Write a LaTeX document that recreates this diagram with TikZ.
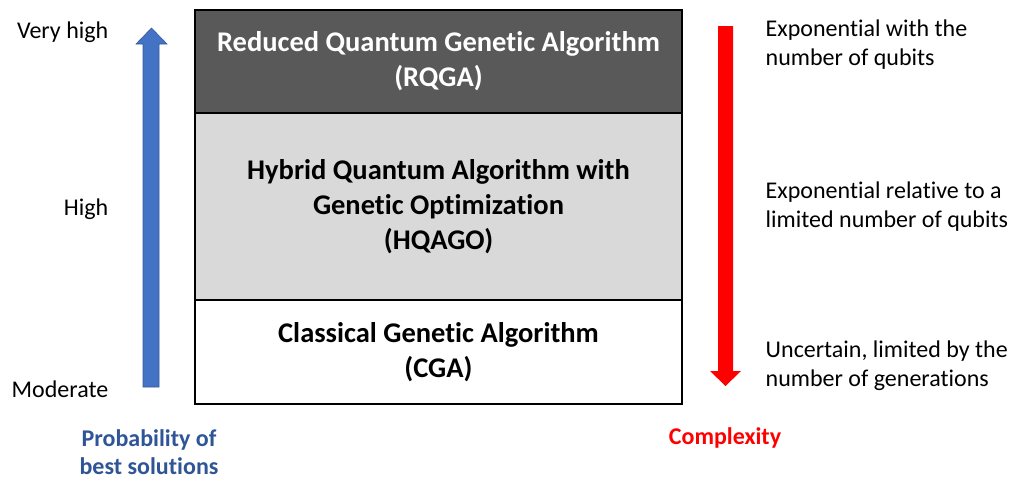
\documentclass[tikz,border=0pt]{standalone}
\usepackage{fontspec}
\setmainfont{Carlito}[Ligatures=NoCommon]
\usepackage[dvipsnames]{xcolor}
\definecolor{darkbox}{HTML}{595959}
\definecolor{lightbox}{HTML}{D9D9D9}
\definecolor{probblue}{HTML}{2F5597}
\definecolor{arrowblue}{HTML}{4472C4}

\begin{document}
\begin{tikzpicture}[x=1pt,y=-1pt,thick,
    algo box/.style={rectangle,draw=black,line width=2.5pt,minimum width=487pt,align=center,inner sep=0pt,font=\fontsize{28.5}{35}\selectfont\bfseries},
    level label/.style={anchor=east,font=\fontsize{24}{29}\selectfont},
    cost label/.style={anchor=west,align=left,font=\fontsize{24}{29}\selectfont},
    axis label/.style={align=center,font=\fontsize{24}{28}\selectfont\bfseries}]

            \useasboundingbox (0,0) rectangle (1024,480);

            % the three algorithms
            \node[algo box,fill=darkbox,text=white,minimum height=103pt] (1) at (438.5,61.5){Reduced Quantum Genetic Algorithm\\(RQGA)};
            \node[algo box,fill=lightbox,minimum height=187pt] (2) at (438.5,206.5){Hybrid Quantum Algorithm with\\Genetic Optimization\\(HQAGO)};
            \node[algo box,fill=white,minimum height=104pt] (3) at (438.5,352){Classical Genetic Algorithm\\(CGA)};

            % arrows
            \fill[arrowblue,draw=arrowblue!80!black,line width=0.6pt] (143,387) -- (143,44) -- (136,44) -- (151.5,28) -- (167,44) -- (159,44) -- (159,387) -- cycle;
            \fill[red] (718,26) -- (733,26) -- (733,371) -- (741,371) -- (725.5,386) -- (710,371) -- (718,371) -- cycle;

            \node[level label] (4) at (112,32){Very high};
            \node[level label] (5) at (112,209){High};
            \node[level label] (6) at (112,389){Moderate};
            \node[axis label,text=probblue] (7) at (149,452){Probability of\\best solutions};

            \node[cost label] (8) at (762,45){Exponential with the\\number of qubits};
            \node[cost label] (9) at (762,207){Exponential relative to a\\limited number of qubits};
            \node[cost label] (10) at (762,366){Uncertain, limited by the\\number of generations};
            \node[axis label,text=red] (11) at (725,438){Complexity};
        \end{tikzpicture}
\end{document}
